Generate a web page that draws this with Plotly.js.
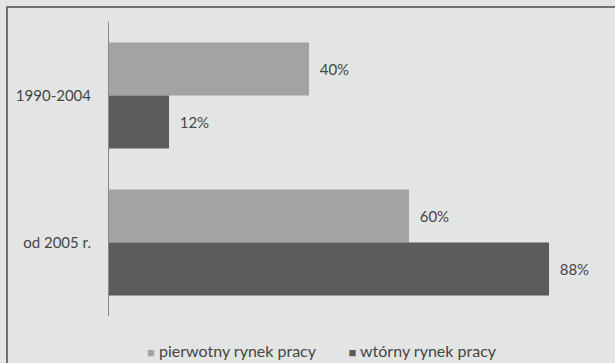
<!DOCTYPE html>
<html>
<head>
<meta charset="utf-8">
<script src="https://cdn.plot.ly/plotly-3.0.1.min.js"></script>
<style>
  html, body { margin: 0; padding: 0; background: #e3e5e4; }
  #chart { width: 615px; height: 363px; }
</style>
</head>
<body>
<div id="chart"></div>
<script>
const categories = ['1990-2004', 'od 2005 r.'];
const seriesNames = ['pierwotny rynek pracy', 'wtórny rynek pracy'];
const pierwotny = [40, 60];
const wtorny = [12, 88];
const colors = ['#a2a4a3', '#5b5d5c'];

const font = {family: 'Lato, "Open Sans", sans-serif', size: 15, color: '#454545'};
const legendFont = {family: 'Lato, "Open Sans", sans-serif', size: 16, color: '#454545'};

const traces = [pierwotny, wtorny].map((vals, i) => ({
  type: 'bar',
  orientation: 'h',
  name: seriesNames[i],
  y: categories,
  x: vals,
  marker: {color: colors[i], line: {width: 0}},
  texttemplate: '\u00a0\u00a0%{x}%',
  textposition: 'outside',
  cliponaxis: false,
  textfont: font,
  hoverinfo: 'skip',
  showlegend: false
}));

// legend drawn as one annotation built from the series names and colours
const NB = '\u00a0';
const legendText = seriesNames.map((n, i) =>
  '<span style="color:' + colors[i] + ';font-size:13px">■</span>' + NB + n
).join(NB.repeat(8));

const layout = {
  width: 615,
  height: 363,
  margin: {l: 109, r: 6, t: 22, b: 47},
  paper_bgcolor: '#e3e5e4',
  plot_bgcolor: 'rgba(0,0,0,0)',
  barmode: 'group',
  bargap: 0.28,
  bargroupgap: 0,
  font: font,
  showlegend: false,
  xaxis: {
    range: [0, 100],
    visible: false,
    fixedrange: true
  },
  yaxis: {
    type: 'category',
    categoryorder: 'array',
    categoryarray: categories,
    autorange: 'reversed',
    showline: true,
    linecolor: '#8a8a8a',
    linewidth: 1,
    showgrid: false,
    zeroline: false,
    ticks: '',
    ticklabelstandoff: 14,
    tickfont: font,
    fixedrange: true
  },
  annotations: [{
    xref: 'paper', yref: 'paper',
    x: 0.426, y: -0.116,
    xanchor: 'center', yanchor: 'middle',
    showarrow: false,
    text: legendText,
    font: legendFont
  }],
  shapes: [{
    type: 'rect',
    xref: 'paper', yref: 'paper',
    x0: -0.204, x1: 1.3, y0: -0.4, y1: 1.051,
    line: {color: '#6e706f', width: 2},
    layer: 'below'
  }]
};

Plotly.newPlot('chart', traces, layout, {displayModeBar: false, staticPlot: true});
</script>
</body>
</html>
